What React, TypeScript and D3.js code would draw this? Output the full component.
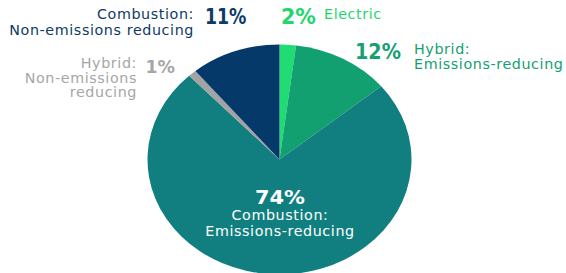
import React from "react";
import * as d3 from "d3";

const categories = [
  "Electric",
  "Hybrid: Emissions-reducing",
  "Combustion: Emissions-reducing",
  "Hybrid: Non-emissions reducing",
  "Combustion: Non-emissions reducing",
];
const values = [2, 12, 74, 1, 11];
const sliceColors = ["#1fdd72", "#12a070", "#117f80", "#a3a3a3", "#04396a"];
const labelColors = ["#1fd66f", "#14a072", "#ffffff", "#a6a6a6", "#0e3a66"];

const W = 566;
const H = 273;
const cx = 279.5;
const cy = 159.5;
const rx = 132;
const ry = 115;
const FONT = "'DejaVu Sans', sans-serif";

export default function App() {
  const data = categories.map((c, i) => ({ c, v: values[i], i }));
  const pie = d3
    .pie<any>()
    .sort(null)
    .value((d: any) => d.v);
  const arcs = pie(data);
  const arc = d3.arc<any>().innerRadius(0).outerRadius(rx);
  const pct = (i: number) => `${values[i]}%`;
  const small = 14.3;
  const ls = 0.6;

  return (
    <svg
      width={W}
      height={H}
      style={{ position: "absolute", left: 0, top: 0, background: "#fff" }}
      fontFamily={FONT}
    >
      <g transform={`translate(${cx},${cy}) scale(1,${ry / rx})`}>
        {arcs.map((a, k) => (
          <path key={k} d={arc(a) as string} fill={sliceColors[a.data.i]} />
        ))}
      </g>

      {/* Combustion: Non-emissions reducing */}
      <g fill={labelColors[4]}>
        <text x={194} y={19} textAnchor="end" fontSize={small} letterSpacing={ls}>
          Combustion:
        </text>
        <text x={194} y={34.5} textAnchor="end" fontSize={small} letterSpacing={ls}>
          Non-emissions reducing
        </text>
        <text x={205} y={24} fontSize={22} fontWeight="bold" textLength={41.5} lengthAdjust="spacingAndGlyphs">
          {pct(4)}
        </text>
      </g>

      {/* Hybrid: Non-emissions reducing */}
      <g fill={labelColors[3]}>
        <text x={137} y={68} textAnchor="end" fontSize={small} letterSpacing={ls}>
          Hybrid:
        </text>
        <text x={137} y={82.5} textAnchor="end" fontSize={small} letterSpacing={ls}>
          Non-emissions
        </text>
        <text x={137} y={97} textAnchor="end" fontSize={small} letterSpacing={ls}>
          reducing
        </text>
        <text x={145.5} y={72.5} fontSize={18.5} fontWeight="bold" textLength={29.5} lengthAdjust="spacingAndGlyphs">
          {pct(3)}
        </text>
      </g>

      {/* Electric */}
      <g fill={labelColors[0]}>
        <text x={281} y={24} fontSize={22} fontWeight="bold" textLength={35} lengthAdjust="spacingAndGlyphs">
          {pct(0)}
        </text>
        <text x={324} y={19} fontSize={small} letterSpacing={ls}>
          Electric
        </text>
      </g>

      {/* Hybrid: Emissions-reducing */}
      <g fill={labelColors[1]}>
        <text x={355} y={58.5} fontSize={22} fontWeight="bold" textLength={46} lengthAdjust="spacingAndGlyphs">
          {pct(1)}
        </text>
        <text x={414} y={53.5} fontSize={small} letterSpacing={ls}>
          Hybrid:
        </text>
        <text x={414} y={68.5} fontSize={small} letterSpacing={ls}>
          Emissions-reducing
        </text>
      </g>

      {/* Combustion: Emissions-reducing */}
      <g fill={labelColors[2]} textAnchor="middle">
        <text x={280} y={203.5} fontSize={20} fontWeight="bold" textLength={50} lengthAdjust="spacingAndGlyphs">
          {pct(2)}
        </text>
        <text x={280} y={219.5} fontSize={small} letterSpacing={ls}>
          Combustion:
        </text>
        <text x={280} y={236} fontSize={small} letterSpacing={ls}>
          Emissions-reducing
        </text>
      </g>
    </svg>
  );
}
